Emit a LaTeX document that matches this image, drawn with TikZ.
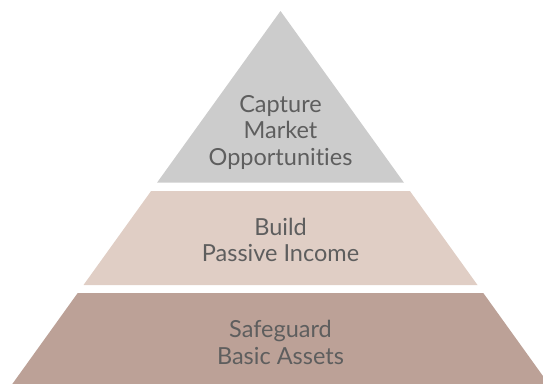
\documentclass[tikz,border=0pt]{standalone}
\usepackage{fontspec}
\setmainfont[Ligatures=NoCommon]{Lato}
\definecolor{topgray}{HTML}{CCCCCC}
\definecolor{midrose}{HTML}{E0CEC5}
\definecolor{lowrose}{HTML}{BCA197}
\definecolor{txtgray}{HTML}{5E5E5E}
\begin{document}
\begin{tikzpicture}[x=1pt,y=-1pt,
  tiertext/.style={anchor=base,align=center,text=txtgray,inner sep=0pt,
    font=\fontsize{23.5}{26.5}\selectfont}]
\useasboundingbox (0,0) rectangle (543,383);
\clip (0,0) rectangle (543,383);
% top triangle
\coordinate (apex) at (280.5,11);
\fill[topgray] (apex)--(404,182.7)--(157,182.7)--cycle;
% middle band
\fill[midrose] (151.1,191)--(409.9,191)--(477.5,285)--(83.5,285)--cycle;
% bottom band
\fill[lowrose] (77.7,293)--(483.3,293)--(553,390)--(8,390)--cycle;
\node[tiertext] (capture) at (280.5,165) {Capture\\Market\\Opportunities};
\node[tiertext] (build) at (280.5,261.5) {Build\\Passive Income};
\node[tiertext] (safeguard) at (280.5,364) {Safeguard\\Basic Assets};
\end{tikzpicture}
\end{document}
